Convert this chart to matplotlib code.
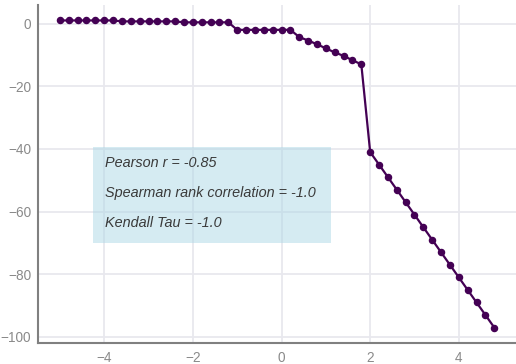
import numpy as np
import matplotlib.pyplot as plt
from matplotlib.patches import Rectangle

# sample positions and the measured response
x_vals = [-5.0, -4.8, -4.6, -4.4, -4.2, -4.0, -3.8, -3.6, -3.4, -3.2,
          -3.0, -2.8, -2.6, -2.4, -2.2, -2.0, -1.8, -1.6, -1.4, -1.2,
          -1.0, -0.8, -0.6, -0.4, -0.2, 0.0, 0.2, 0.4, 0.6, 0.8,
          1.0, 1.2, 1.4, 1.6, 1.8, 2.0, 2.2, 2.4, 2.6, 2.8,
          3.0, 3.2, 3.4, 3.6, 3.8, 4.0, 4.2, 4.4, 4.6, 4.8]
y_vals = [1.0, 1.0, 1.0, 1.0, 1.0, 1.0, 1.0, 0.7, 0.7, 0.7,
          0.7, 0.7, 0.7, 0.7, 0.4, 0.4, 0.4, 0.4, 0.4, 0.4,
          -2.0, -2.0, -2.0, -2.0, -2.0, -2.0, -2.0, -4.3, -5.4, -6.6,
          -7.9, -9.2, -10.3, -11.7, -13.0, -41.0, -45.0, -49.0, -53.0, -57.0,
          -61.0, -65.0, -69.0, -73.0, -77.0, -81.0, -85.0, -89.0, -93.0, -97.0]

stats_lines = ["Pearson r = -0.85",
               "Spearman rank correlation = -1.0",
               "Kendall Tau = -1.0"]

plt.rcParams['font.family'] = ['Liberation Sans', 'DejaVu Sans']

fig = plt.figure(figsize=(5.16, 3.64), dpi=100)
ax = fig.add_axes([0.074, 0.058, 0.926, 0.928])

ax.plot(x_vals, y_vals, color='#440154', lw=1.6, marker='o', ms=4.4,
        zorder=3)

ax.set_xticks([-4, -2, 0, 2, 4])
ax.set_yticks([0, -20, -40, -60, -80, -100])
ax.set_xticklabels(['\u22124', '\u22122', '0', '2', '4'])
ax.set_yticklabels(['0', '\u221220', '\u221240', '\u221260', '\u221280', '\u2212100'])
ax.grid(True, color='#e8e8ee', lw=1.3, zorder=0)
ax.set_axisbelow(True)
ax.tick_params(length=0, labelsize=9.8, labelcolor='#8a8a8a', pad=6)
ax.tick_params(axis='y', pad=5)

for side in ['top', 'right']:
    ax.spines[side].set_visible(False)
for side in ['left', 'bottom']:
    ax.spines[side].set_color('#808080')
    ax.spines[side].set_linewidth(1.5)

# shaded box holding the correlation summary
ax.add_patch(Rectangle((0.115, 0.296), 0.498, 0.284, transform=ax.transAxes,
                       facecolor='#add8e6', alpha=0.5, edgecolor='none',
                       zorder=2))
for ypos, line in zip([0.532, 0.443, 0.354], stats_lines):
    ax.text(0.140, ypos, line, transform=ax.transAxes, fontsize=10.4,
            style='italic', color='#3a3a3a', va='center', ha='left',
            zorder=4)

fig.savefig('out.png', dpi=100)
